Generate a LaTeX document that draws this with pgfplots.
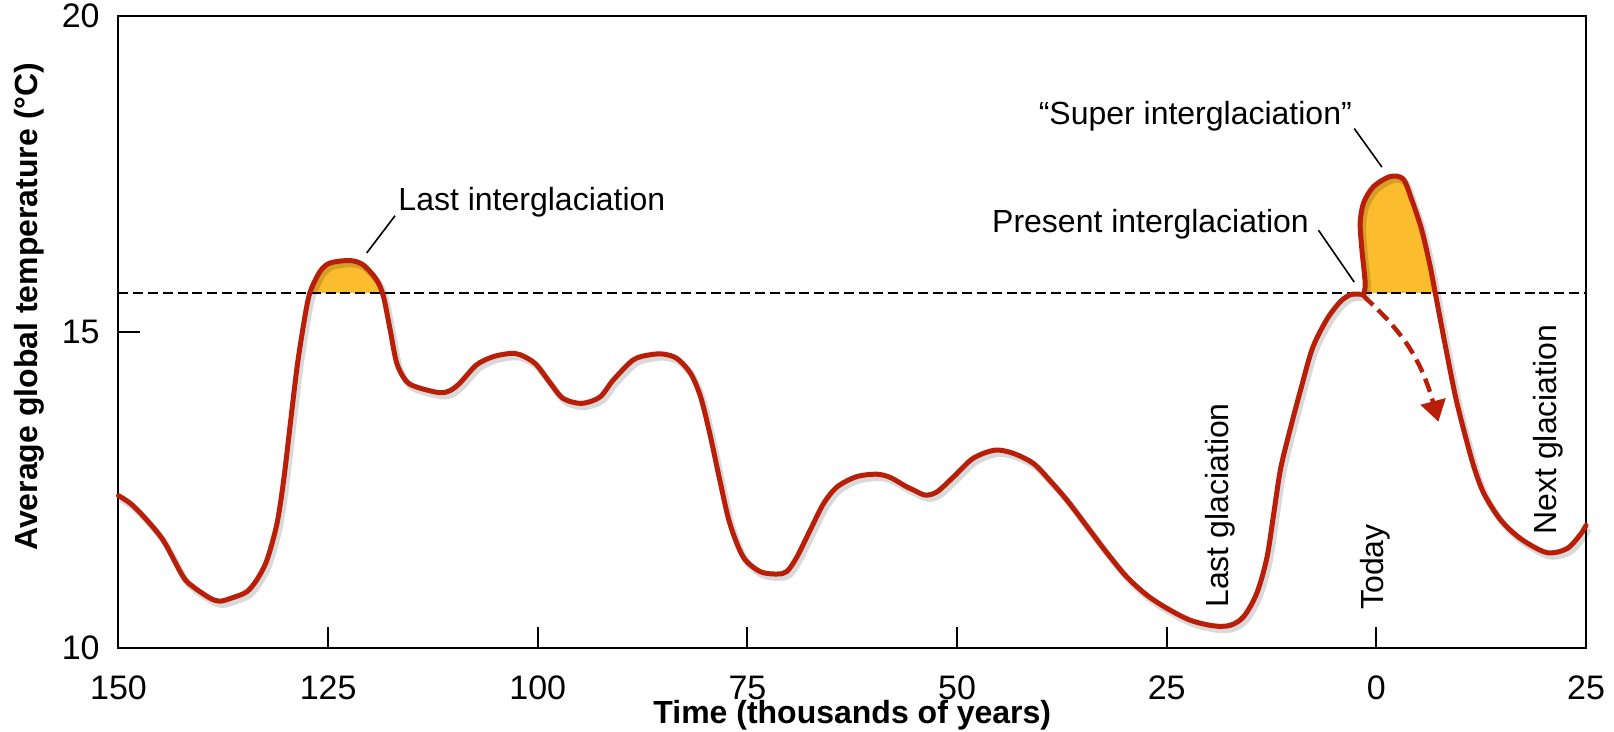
\documentclass[border=0pt]{standalone}
\usepackage{fontspec}
\setmainfont{Liberation Sans}
\usepackage{pgfplots}
\pgfplotsset{compat=1.18}
\usetikzlibrary{arrows.meta}
\definecolor{curvered}{RGB}{184,30,8}
\definecolor{fillorange}{RGB}{251,188,45}
\newcommand{\annfont}{\fontsize{16}{19}\selectfont}
\begin{document}
\begin{tikzpicture}
\begin{axis}[
  name=ax,
  scale only axis, width=733.75pt, height=316pt,
  xmin=-150, xmax=25, ymin=10, ymax=20,
  clip=false,
  axis line style={line width=1pt},
  xtick={-150,-125,-100,-75,-50,-25,0,25},
  xticklabels={150,125,100,75,50,25,0,25},
  ytick={10,15,20}, yticklabels={10,15,20},
  xtick pos=lower, ytick pos=left,
  tick align=inside, major tick length=10.5pt,
  tick style={line width=1pt, black},
  xticklabel style={anchor=base, inner sep=0pt, yshift=-26pt, font=\fontsize{17}{20}\selectfont},
  yticklabel style={anchor=east, inner sep=0pt, xshift=-9.25pt, font=\fontsize{17}{20}\selectfont},
  xlabel={Time (thousands of years)},
  xlabel style={at={(axis description cs:0.5,-0.1187)}, anchor=base, inner sep=0pt, font=\bfseries\fontsize{16}{19}\selectfont},
  ylabel={Average global temperature (°C)},
  ylabel style={at={(axis description cs:-0.05486,0.54)}, anchor=base, inner sep=0pt, font=\bfseries\fontsize{16}{19}\selectfont},
]
% orange fills
\addplot[draw=none, fill=fillorange, smooth] coordinates {
(-127.2,15.62) (-126.0,15.95) (-124.8,16.09) (-122.4,16.13) (-120.8,16.06) (-119.2,15.82) (-118.35,15.62)} -- cycle;
\addplot[draw=none, fill=fillorange, smooth] coordinates {
(-1.53,15.62) (-1.33,15.77) (-1.72,16.30) (-1.93,16.72) (-1.53,17.04) (-0.34,17.30) (1.65,17.46) (3.2,17.42) (4.2,17.1) (5.4,16.62) (6.4,16.05) (7.02,15.62)} -- cycle;
% threshold
\addplot[black, line width=0.8pt, dash pattern=on 5pt off 2.4pt] coordinates {(-150,15.62) (25,15.62)};
% shadows
\addplot[black, opacity=0.15, line width=3.2pt, smooth, xshift=1.3pt, yshift=-1.8pt] coordinates {
(-150,12.41) (-148.6,12.29) (-147.0,12.08) (-144.7,11.71) (-142.3,11.13) (-141.1,10.97) (-139.1,10.79) (-137.9,10.74) (-136.3,10.80) (-134.7,10.89) (-133.5,11.08) (-132.3,11.39) (-131.1,11.97) (-130.3,12.66) (-129.5,13.56) (-128.7,14.45) (-127.9,15.14) (-127.2,15.61) (-126.0,15.95) (-124.8,16.09) (-122.4,16.13) (-120.8,16.06) (-119.2,15.82) (-118.4,15.56) (-117.6,15.03) (-116.8,14.50) (-115.6,14.21) (-114.0,14.11) (-111.7,14.04) (-110.5,14.07) (-109.3,14.19) (-107.3,14.48) (-105.3,14.61) (-103.3,14.66) (-102.1,14.64) (-100.3,14.50) (-98.5,14.19) (-97.0,13.95) (-94.8,13.87) (-92.6,13.97) (-91.0,14.24) (-88.6,14.56) (-86.6,14.64) (-85.0,14.65) (-83.4,14.58) (-81.8,14.35) (-80.6,13.98) (-79.5,13.40) (-78.3,12.66) (-77.1,11.97) (-75.5,11.44) (-73.5,11.21) (-71.5,11.17) (-70.3,11.21) (-69.1,11.44) (-67.5,11.87) (-65.9,12.29) (-64.3,12.55) (-62.0,12.71) (-59.6,12.75) (-58.0,12.70) (-56.0,12.55) (-55.2,12.50) (-53.8,12.42) (-52.4,12.47) (-50.4,12.71) (-48.1,13.00) (-45.5,13.13) (-43.3,13.08) (-40.9,12.92) (-39.0,12.66) (-36.9,12.34) (-34.5,11.92) (-32.1,11.50) (-29.8,11.13) (-27.4,10.84) (-25.0,10.63) (-22.2,10.44) (-19.4,10.35) (-17.4,10.36) (-15.8,10.50) (-14.25,10.87) (-13.05,11.43) (-12.2,12.16) (-11.4,12.85) (-10.2,13.5) (-9.0,14.1) (-7.6,14.75) (-5.9,15.2) (-4.3,15.48) (-3.1,15.59) (-2.3,15.6) (-1.53,15.59)};
\addplot[black, opacity=0.15, line width=3.2pt, smooth, xshift=1.3pt, yshift=-1.8pt] coordinates {
(-1.53,15.59) (-1.33,15.77) (-1.72,16.30) (-1.93,16.72) (-1.53,17.04) (-0.34,17.30) (1.65,17.46) (3.2,17.42) (4.2,17.1) (5.4,16.62) (6.4,16.05) (7.02,15.62) (8.2,14.8) (9.4,14.0) (10.4,13.46) (11.6,12.88) (12.8,12.45) (14.8,12.03) (17.2,11.73) (20.3,11.51) (22.7,11.57) (24.3,11.79) (25,11.94)};
% main curve
\addplot[curvered, line width=2.5pt, smooth, line join=round, line cap=round] coordinates {
(-150,12.41) (-148.6,12.29) (-147.0,12.08) (-144.7,11.71) (-142.3,11.13) (-141.1,10.97) (-139.1,10.79) (-137.9,10.74) (-136.3,10.80) (-134.7,10.89) (-133.5,11.08) (-132.3,11.39) (-131.1,11.97) (-130.3,12.66) (-129.5,13.56) (-128.7,14.45) (-127.9,15.14) (-127.2,15.61) (-126.0,15.95) (-124.8,16.09) (-122.4,16.13) (-120.8,16.06) (-119.2,15.82) (-118.4,15.56) (-117.6,15.03) (-116.8,14.50) (-115.6,14.21) (-114.0,14.11) (-111.7,14.04) (-110.5,14.07) (-109.3,14.19) (-107.3,14.48) (-105.3,14.61) (-103.3,14.66) (-102.1,14.64) (-100.3,14.50) (-98.5,14.19) (-97.0,13.95) (-94.8,13.87) (-92.6,13.97) (-91.0,14.24) (-88.6,14.56) (-86.6,14.64) (-85.0,14.65) (-83.4,14.58) (-81.8,14.35) (-80.6,13.98) (-79.5,13.40) (-78.3,12.66) (-77.1,11.97) (-75.5,11.44) (-73.5,11.21) (-71.5,11.17) (-70.3,11.21) (-69.1,11.44) (-67.5,11.87) (-65.9,12.29) (-64.3,12.55) (-62.0,12.71) (-59.6,12.75) (-58.0,12.70) (-56.0,12.55) (-55.2,12.50) (-53.8,12.42) (-52.4,12.47) (-50.4,12.71) (-48.1,13.00) (-45.5,13.13) (-43.3,13.08) (-40.9,12.92) (-39.0,12.66) (-36.9,12.34) (-34.5,11.92) (-32.1,11.50) (-29.8,11.13) (-27.4,10.84) (-25.0,10.63) (-22.2,10.44) (-19.4,10.35) (-17.4,10.36) (-15.8,10.50) (-14.25,10.87) (-13.05,11.43) (-12.2,12.16) (-11.4,12.85) (-10.2,13.5) (-9.0,14.1) (-7.6,14.75) (-5.9,15.2) (-4.3,15.48) (-3.1,15.59) (-2.3,15.6) (-1.53,15.59)};
\addplot[curvered, line width=2.5pt, smooth, line join=round, line cap=round] coordinates {
(-1.53,15.59) (-1.33,15.77) (-1.72,16.30) (-1.93,16.72) (-1.53,17.04) (-0.34,17.30) (1.65,17.46) (3.2,17.42) (4.2,17.1) (5.4,16.62) (6.4,16.05) (7.02,15.62) (8.2,14.8) (9.4,14.0) (10.4,13.46) (11.6,12.88) (12.8,12.45) (14.8,12.03) (17.2,11.73) (20.3,11.51) (22.7,11.57) (24.3,11.79) (25,11.94)};
% dashed projection arrow
\addplot[curvered, line width=2.2pt, smooth, dash pattern=on 7pt off 3.5pt, -{Triangle[length=10.5pt,width=12.5pt]}] coordinates {
(-1.6,15.58) (1.3,15.2) (3.6,14.82) (5.2,14.45) (6.4,14.05) (7.4,13.58)};
% leader lines
\draw[black, line width=0.8pt] (axis cs:-117.02,16.84) -- (axis cs:-120.40,16.25);
\draw[black, line width=0.8pt] (axis cs:-6.90,16.61) -- (axis cs:-2.64,15.79);
\draw[black, line width=0.8pt] (axis cs:-2.64,18.22) -- (axis cs:0.66,17.61);
% annotations
\node[anchor=base west, inner sep=0pt, font=\annfont] at (axis cs:-116.66,16.93) {Last interglaciation};
\node[anchor=base east, inner sep=0pt, font=\annfont] at (axis cs:-8.01,16.58) {Present interglaciation};
\node[anchor=base east, inner sep=0pt, font=\annfont] at (axis cs:-2.88,18.28) {“Super interglaciation”};
\node[rotate=90, anchor=base west, inner sep=0pt, font=\annfont] at (axis cs:-17.67,10.63) {Last glaciation};
\node[rotate=90, anchor=base west, inner sep=0pt, font=\annfont] at (axis cs:0.82,10.60) {Today};
\node[rotate=90, anchor=base west, inner sep=0pt, font=\annfont] at (axis cs:21.45,11.79) {Next glaciation};
\end{axis}
\pgfresetboundingbox
\path[use as bounding box] ([shift={(-59.25pt,-42pt)}]ax.south west) rectangle ([shift={(747.75pt,324pt)}]ax.south west);
\end{tikzpicture}
\end{document}
